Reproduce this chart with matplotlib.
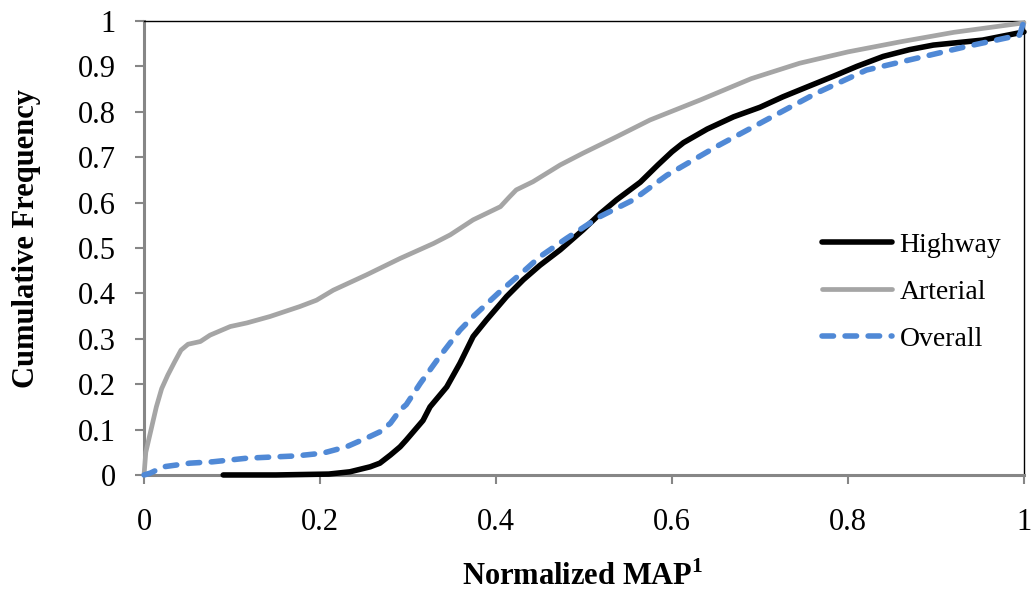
import matplotlib
matplotlib.use("Agg")
import matplotlib.pyplot as plt

# Cumulative frequency of normalized MAP by road type
highway_x = [0.09, 0.15, 0.21, 0.234, 0.257, 0.268, 0.28, 0.291, 0.298, 0.317, 0.325,
             0.344, 0.359, 0.374, 0.389, 0.412, 0.431, 0.45, 0.473, 0.499, 0.518,
             0.537, 0.564, 0.584, 0.6, 0.613, 0.64, 0.67, 0.7, 0.726, 0.75, 0.783,
             0.81, 0.84, 0.87, 0.897, 0.953, 1.0]
highway_y = [0.0, 0.0, 0.002, 0.007, 0.018, 0.026, 0.044, 0.062, 0.077, 0.12, 0.15,
             0.194, 0.246, 0.305, 0.341, 0.393, 0.43, 0.462, 0.496, 0.54, 0.575,
             0.606, 0.645, 0.683, 0.712, 0.732, 0.762, 0.789, 0.81, 0.833, 0.852, 0.878,
             0.9, 0.922, 0.937, 0.947, 0.958, 0.976]

arterial_x = [0.0, 0.002, 0.008, 0.014, 0.02, 0.027, 0.035, 0.042, 0.05, 0.064, 0.075,
              0.098, 0.117, 0.143, 0.177, 0.196, 0.215, 0.253, 0.291, 0.329, 0.348,
              0.374, 0.405, 0.415, 0.423, 0.442, 0.473, 0.499, 0.537, 0.575, 0.632, 0.69,
              0.745, 0.8, 0.859, 0.92, 1.0]
arterial_y = [0.0, 0.05, 0.10, 0.15, 0.19, 0.22, 0.25, 0.275, 0.288, 0.294, 0.308,
              0.327, 0.335, 0.349, 0.371, 0.385, 0.407, 0.441, 0.477, 0.51, 0.529,
              0.562, 0.591, 0.612, 0.628, 0.646, 0.683, 0.709, 0.745, 0.782, 0.826, 0.873,
              0.907, 0.932, 0.954, 0.975, 0.996]

overall_x = [0.0, 0.007, 0.022, 0.052, 0.078, 0.117, 0.173, 0.203, 0.23, 0.257, 0.268,
             0.28, 0.291, 0.298, 0.314, 0.336, 0.359, 0.374, 0.405, 0.431, 0.45, 0.48,
             0.518, 0.556, 0.584, 0.594, 0.651, 0.707, 0.764, 0.821, 0.878, 0.935,
             0.995, 1.0]
overall_y = [0.0, 0.004, 0.018, 0.026, 0.029, 0.037, 0.042, 0.048, 0.062, 0.085, 0.095,
             0.114, 0.143, 0.155, 0.202, 0.261, 0.319, 0.349, 0.405, 0.448, 0.481, 0.521,
             0.569, 0.606, 0.646, 0.66, 0.724, 0.782, 0.841, 0.892, 0.918, 0.944,
             0.969, 1.0]

x_ticks = [0, 0.2, 0.4, 0.6, 0.8, 1]
y_ticks = [0, 0.1, 0.2, 0.3, 0.4, 0.5, 0.6, 0.7, 0.8, 0.9, 1]

plt.rcParams["font.family"] = ["Liberation Serif", "DejaVu Serif"]
plt.rcParams["mathtext.fontset"] = "custom"
plt.rcParams["mathtext.rm"] = "Liberation Serif"
plt.rcParams["mathtext.bf"] = "Liberation Serif:bold"
axis_gray = "#868686"

fig = plt.figure(figsize=(10.31, 5.97), dpi=100)
ax = fig.add_axes([0.1397, 0.2044, 0.8535, 0.7604])

ax.plot(highway_x, highway_y, color="black", lw=4.0, label="Highway",
        solid_capstyle="round", solid_joinstyle="round", zorder=3, clip_on=False)
ax.plot(arterial_x, arterial_y, color="#a5a5a5", lw=3.4, label="Arterial",
        solid_capstyle="round", solid_joinstyle="round", zorder=3, clip_on=False)
ax.plot(overall_x, overall_y, color="#5089d6", lw=4.0, label="Overall",
        dashes=(2.07, 2.08), dash_capstyle="round", zorder=3, clip_on=False)

ax.set_xlim(0, 1)
ax.set_ylim(0, 1)
ax.set_xticks(x_ticks)
ax.set_yticks(y_ticks)
ax.set_xticklabels(["%g" % t for t in x_ticks])
ax.set_yticklabels(["%g" % t for t in y_ticks])

# gray axis lines on the left/bottom, thin black frame on top/right
for side in ["left", "bottom"]:
    ax.spines[side].set_color(axis_gray)
    ax.spines[side].set_linewidth(2.2)
for side in ["top", "right"]:
    ax.spines[side].set_color("black")
    ax.spines[side].set_linewidth(1.0)

ax.tick_params(axis="both", direction="out", length=6.5, width=1.5,
               color=axis_gray, labelsize=22, labelcolor="black")
ax.tick_params(axis="y", pad=14)
ax.tick_params(axis="x", pad=17)

ax.set_xlabel(r"Normalized MAP$^{\mathbf{1}}$", fontsize=22, fontweight="bold")
ax.set_ylabel("Cumulative Frequency", fontsize=22, fontweight="bold")
ax.xaxis.set_label_coords(0.498, -0.19)
ax.yaxis.set_label_coords(-0.117, 0.52)

ax.legend(loc="center left", bbox_to_anchor=(0.770, 0.403), frameon=False,
          fontsize=20, handlelength=2.55, handletextpad=0.25, labelspacing=0.77,
          borderpad=0, borderaxespad=0)

fig.savefig("out.png", dpi=100)
